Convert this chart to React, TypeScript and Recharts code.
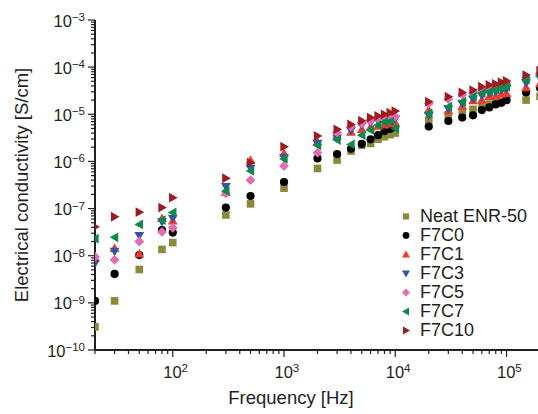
import React from "react";
import { ScatterChart, Scatter, XAxis, YAxis } from "recharts";

// frequency points [Hz]
const frequencies = [
  20, 30, 50, 80, 100, 300, 500, 1000, 2000, 3000, 4000, 5000, 6000, 7000, 8000, 9000, 10000,
  20000, 30000, 40000, 50000, 60000, 70000, 80000, 90000, 100000, 150000, 200000,
];

// electrical conductivity [S/cm], one value per frequency
const neatENR50 = [
  3.1e-10, 1.1e-9, 5.1e-9, 1.36e-8, 1.9e-8, 7.3e-8, 1.26e-7, 2.7e-7, 7.1e-7, 1.07e-6, 1.66e-6, 2.2e-6, 2.4e-6, 2.95e-6, 3.35e-6, 3.7e-6, 4.0e-6,
  7.6e-6, 9.7e-6, 1.1e-5, 1.28e-5, 1.5e-5, 1.65e-5, 1.8e-5, 1.9e-5, 2.1e-5, 2.0e-5, 2.4e-5,
];
const f7c0 = [
  1.1e-9, 4.1e-9, 1.03e-8, 3.5e-8, 3.1e-8, 1.05e-7, 1.85e-7, 3.66e-7, 1.16e-6, 1.43e-6, 1.85e-6, 2.35e-6, 2.95e-6, 3.6e-6, 4.4e-6, 4.9e-6, 5.4e-6,
  5.5e-6, 7.2e-6, 8.5e-6, 9.5e-6, 1.23e-5, 1.4e-5, 1.62e-5, 1.75e-5, 2.0e-5, 2.9e-5, 3.6e-5,
];
const f7c1 = [
  9.0e-9, 1.44e-8, 1.1e-8, 6.2e-8, 5.5e-8, 2.2e-7, 1.07e-6, 1.5e-6, 2.6e-6, 3.5e-6, 4.2e-6, 4.8e-6, 5.4e-6, 5.6e-6, 6.0e-6, 6.3e-6, 6.6e-6,
  1.25e-5, 1.2e-5, 1.5e-5, 1.95e-5, 2.0e-5, 2.4e-5, 2.45e-5, 2.7e-5, 2.8e-5, 3.7e-5, 4.5e-5,
];
const f7c3 = [
  6.9e-9, 1.23e-8, 2.66e-8, 5.2e-8, 6.2e-8, 2.9e-7, 7.1e-7, 1.2e-6, 2.4e-6, 3.1e-6, 4.5e-6, 5.8e-6, 6.5e-6, 7.2e-6, 7.8e-6, 8.2e-6, 8.0e-6,
  9.5e-6, 1.3e-5, 1.7e-5, 2.1e-5, 2.5e-5, 2.8e-5, 3.0e-5, 3.3e-5, 3.5e-5, 4.6e-5, 5.8e-5,
];
const f7c5 = [
  9.5e-9, 8.2e-9, 2.0e-8, 3.2e-8, 3.9e-8, 2.1e-7, 4.0e-7, 8.0e-7, 1.53e-6, 4.1e-6, 5.5e-6, 6.4e-6, 7.3e-6, 8.2e-6, 9.0e-6, 9.2e-6, 8.9e-6,
  1.7e-5, 2.1e-5, 2.6e-5, 2.9e-5, 3.4e-5, 3.8e-5, 4.0e-5, 4.3e-5, 4.5e-5, 6.0e-5, 7.4e-5,
];
const f7c7 = [
  2.3e-8, 2.45e-8, 4.6e-8, 5.7e-8, 8.3e-8, 2.36e-7, 6.3e-7, 1.13e-6, 2.2e-6, 2.85e-6, 2.3e-6, 3.6e-6, 4.6e-6, 5.9e-6, 6.9e-6, 7.0e-6, 5.0e-6,
  1.05e-5, 1.45e-5, 1.85e-5, 2.36e-5, 2.8e-5, 3.0e-5, 3.3e-5, 3.6e-5, 3.85e-5, 5.4e-5, 6.5e-5,
];
const f7c10 = [
  4.1e-8, 6.7e-8, 8.4e-8, 1.05e-7, 1.7e-7, 4.4e-7, 9.4e-7, 2.06e-6, 3.47e-6, 4.8e-6, 6.1e-6, 7.3e-6, 8.5e-6, 9.2e-6, 1.0e-5, 1.08e-5, 1.17e-5,
  1.85e-5, 2.36e-5, 2.9e-5, 3.27e-5, 3.85e-5, 4.2e-5, 4.4e-5, 4.8e-5, 5.1e-5, 6.8e-5, 8.4e-5,
];

const xTickExponents = [2, 3, 4, 5];
const yTickExponents = [-10, -9, -8, -7, -6, -5, -4, -3];

const FONT = '"Liberation Sans", Arial, Helvetica, sans-serif';
const INK = "#231f20";

type Shape = "square" | "circle" | "up" | "down" | "diamond" | "left" | "right";

const series: { name: string; values: number[]; color: string; shape: Shape }[] = [
  { name: "Neat ENR-50", values: neatENR50, color: "#8b8a3b", shape: "square" },
  { name: "F7C0", values: f7c0, color: "#000000", shape: "circle" },
  { name: "F7C1", values: f7c1, color: "#f03a30", shape: "up" },
  { name: "F7C3", values: f7c3, color: "#3953a4", shape: "down" },
  { name: "F7C5", values: f7c5, color: "#e26cb2", shape: "diamond" },
  { name: "F7C7", values: f7c7, color: "#0b8a4a", shape: "left" },
  { name: "F7C10", values: f7c10, color: "#9c1c1f", shape: "right" },
];

const Marker = ({ cx, cy, shape, color, s = 1 }: { cx: number; cy: number; shape: Shape; color: string; s?: number }) => {
  const r = 4.9 * s;
  switch (shape) {
    case "square":
      return <rect x={cx - 3.8 * s} y={cy - 3.8 * s} width={7.6 * s} height={7.6 * s} fill={color} />;
    case "circle":
      return <circle cx={cx} cy={cy} r={4.1 * s} fill={color} />;
    case "up":
      return <polygon points={`${cx},${cy - r} ${cx + r},${cy + r * 0.75} ${cx - r},${cy + r * 0.75}`} fill={color} />;
    case "down":
      return <polygon points={`${cx},${cy + r} ${cx + r},${cy - r * 0.75} ${cx - r},${cy - r * 0.75}`} fill={color} />;
    case "diamond":
      return <polygon points={`${cx},${cy - r} ${cx + r},${cy} ${cx},${cy + r} ${cx - r},${cy}`} fill={color} />;
    case "left":
      return <polygon points={`${cx - r},${cy} ${cx + r * 0.75},${cy - r} ${cx + r * 0.75},${cy + r}`} fill={color} />;
    case "right":
      return <polygon points={`${cx + r},${cy} ${cx - r * 0.75},${cy - r} ${cx - r * 0.75},${cy + r}`} fill={color} />;
  }
  return null;
};

// log axis ticks: majors at decades, minors at 2..9 x decade
const logTicks = (fromExp: number, toExp: number, min: number, max: number) => {
  const out: number[] = [];
  for (let e = fromExp; e <= toExp; e++) {
    for (let m = 1; m <= 9; m++) {
      const v = Number((m * Math.pow(10, e)).toPrecision(6));
      if (v >= min * 0.9999 && v <= max * 1.0001) out.push(v);
    }
  }
  return out;
};
const xTicks = logTicks(1, 5, 20, 200000);
const yTicks = logTicks(-10, -3, 1e-10, 1e-3);

const isDecade = (v: number) => Math.abs(Math.log10(v) - Math.round(Math.log10(v))) < 1e-6;
const majorExp = (v: number, exps: number[]) => {
  const e = Math.round(Math.log10(v));
  return isDecade(v) && exps.includes(e) ? e : null;
};
const expText = (e: number) => (e < 0 ? "\u2212" + Math.abs(e) : String(e));

const XTick = (props: any) => {
  const { x, y, payload } = props;
  const e = majorExp(payload.value, xTickExponents);
  return (
    <g>
      <line x1={x} x2={x} y1={y} y2={y + (isDecade(payload.value) ? 7 : 4)} stroke={INK} strokeWidth={1.2} />
      {e !== null && (
        <text x={x - 9.5} y={y + 28} fontSize={16.5} fill={INK} fontFamily={FONT}>
          10<tspan dy={-6} fontSize={11.5}>{expText(e)}</tspan>
        </text>
      )}
    </g>
  );
};

const YTick = (props: any) => {
  const { x, y, payload } = props;
  const e = majorExp(payload.value, yTickExponents);
  return (
    <g>
      <line x1={x - (e !== null ? 7 : 4)} x2={x} y1={y} y2={y} stroke={INK} strokeWidth={1.2} />
      {e !== null && (
        <text x={x - 10} y={y + 6.5} textAnchor="end" fontSize={16.5} fill={INK} fontFamily={FONT}>
          10<tspan dy={-5.5} fontSize={11.5}>{expText(e)}</tspan>
        </text>
      )}
    </g>
  );
};

export default function App() {
  return (
    <div style={{ position: "absolute", left: 0, top: 0, width: 538, height: 414, overflow: "hidden", background: "#fff" }}>
      <ScatterChart width={542} height={414} margin={{ top: 20, right: 2, bottom: 0, left: 0 }}>
        <XAxis
          xAxisId="top"
          orientation="top"
          type="number"
          dataKey="f"
          scale="log"
          domain={[20, 200000]}
          allowDataOverflow
          tick={false}
          tickLine={false}
          height={0}
          axisLine={{ stroke: INK, strokeWidth: 2 }}
        />
        <XAxis
          type="number"
          dataKey="f"
          scale="log"
          domain={[20, 200000]}
          allowDataOverflow
          ticks={xTicks}
          interval={0}
          tick={<XTick />}
          tickLine={false}
          tickSize={0}
          tickMargin={0}
          height={64}
          axisLine={{ stroke: INK, strokeWidth: 2 }}
        />
        <YAxis
          type="number"
          dataKey="v"
          scale="log"
          domain={[1e-10, 1e-3]}
          allowDataOverflow
          ticks={yTicks}
          interval={0}
          tick={<YTick />}
          tickLine={false}
          tickSize={0}
          tickMargin={0}
          width={95}
          axisLine={{ stroke: INK, strokeWidth: 2 }}
        />
        {series.map((s) => (
          <Scatter
            key={s.name}
            name={s.name}
            data={frequencies.map((f, i) => ({ f, v: s.values[i] }))}
            fill={s.color}
            isAnimationActive={false}
            shape={(p: any) => <Marker cx={p.cx} cy={p.cy} shape={s.shape} color={s.color} />}
          />
        ))}
      </ScatterChart>

      <svg width={538} height={414} style={{ position: "absolute", left: 0, top: 0, pointerEvents: "none" }}>
        <text x={291} y={404} textAnchor="middle" fontSize={18.5} fill={INK} fontFamily={FONT}>
          Frequency [Hz]
        </text>
        <text transform="translate(28,185) rotate(-90)" textAnchor="middle" fontSize={18.5} fill={INK} fontFamily={FONT}>
          Electrical conductivity [S/cm]
        </text>
      </svg>

      <div style={{ position: "absolute", left: 398, top: 207.3, fontFamily: FONT, fontSize: 18, color: INK }}>
        {series.map((s) => (
          <div key={s.name} style={{ display: "flex", alignItems: "center", height: 18.9, overflow: "visible" }}>
            <svg width={16} height={18.9}>
              <Marker cx={8} cy={9.45} shape={s.shape} color={s.color} s={0.82} />
            </svg>
            <span style={{ marginLeft: 6, lineHeight: "18.9px", display: "block", height: 18.9 }}>{s.name}</span>
          </div>
        ))}
      </div>
    </div>
  );
}
